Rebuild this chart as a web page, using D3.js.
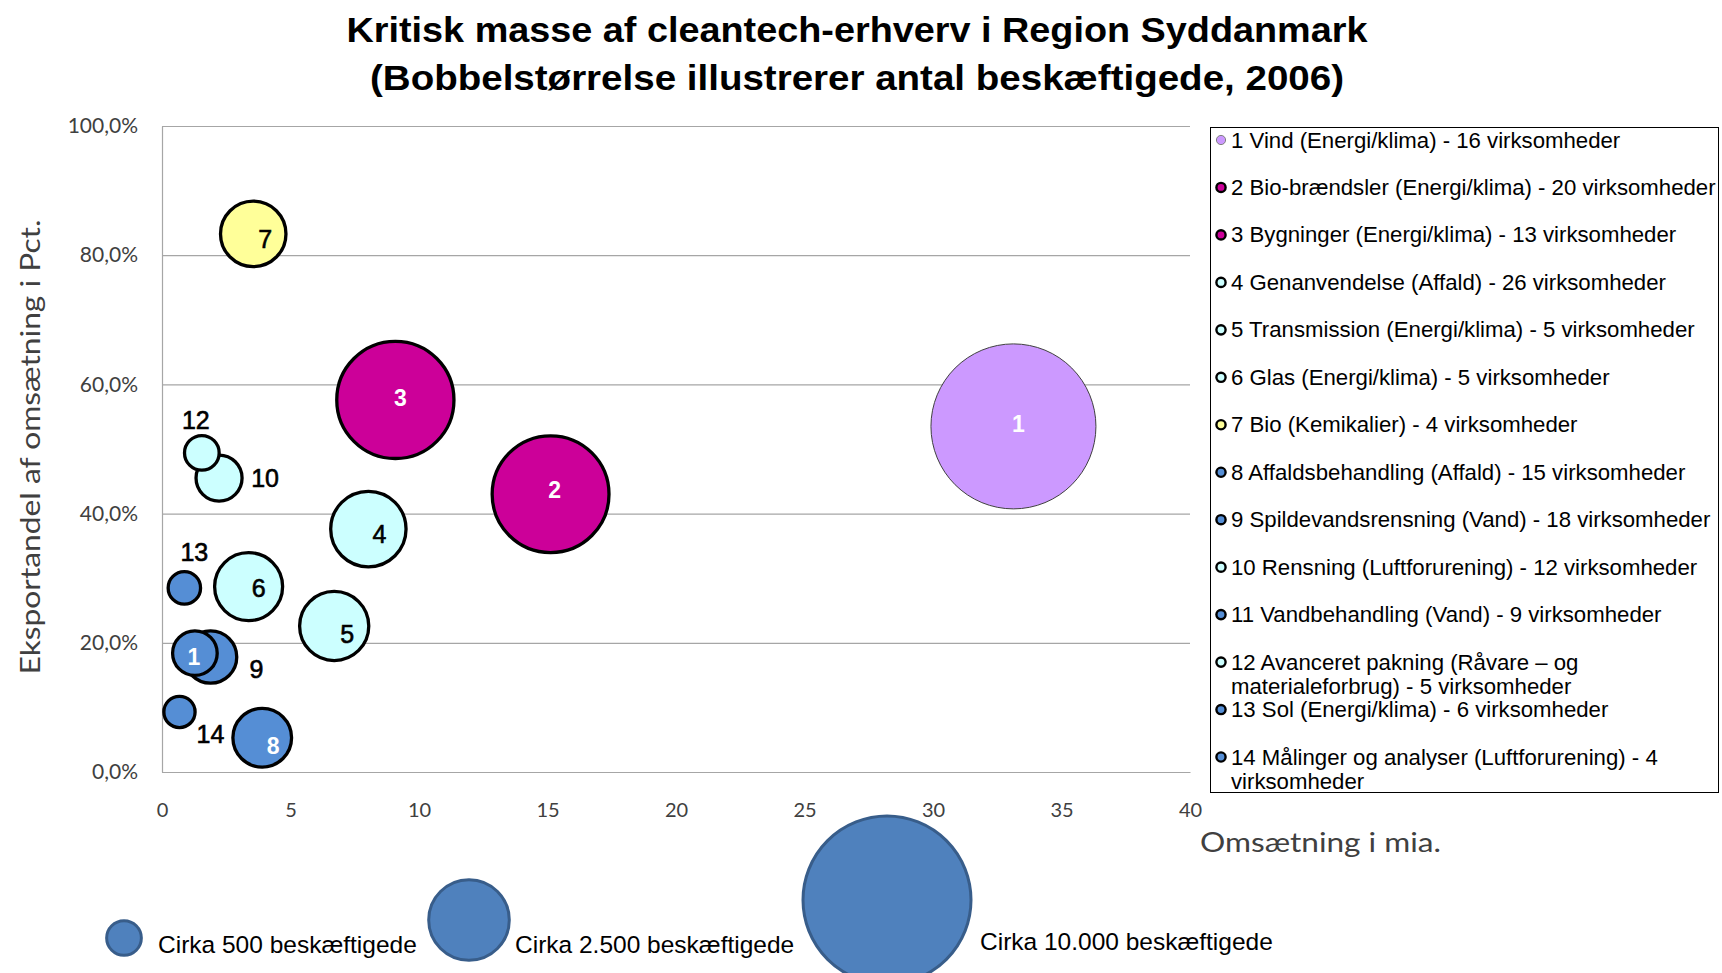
<!DOCTYPE html>
<html><head><meta charset="utf-8">
<script src="https://cdn.jsdelivr.net/npm/d3@7"></script>
<style>body{margin:0;background:#fff;overflow:hidden}</style>
</head><body>
<svg id="c" width="1722" height="973"></svg>
<script>
// ---------- data ----------
const titleLines = ["Kritisk masse af cleantech-erhverv i Region Syddanmark",
                    "(Bobbelstørrelse illustrerer antal beskæftigede, 2006)"];
const yAxisTitle = "Eksportandel af omsætning i Pct.";
const xAxisTitle = "Omsætning i mia.";
const bubbleLabels = ["1","2","3","4","5","6","7","8","9","10","1","12","13","14"];
const legendLabels = [
  "1 Vind (Energi/klima) -  16 virksomheder",
  "2 Bio-brændsler (Energi/klima) - 20 virksomheder",
  "3 Bygninger (Energi/klima) - 13 virksomheder",
  "4 Genanvendelse (Affald) - 26 virksomheder",
  "5 Transmission (Energi/klima) - 5 virksomheder",
  "6 Glas (Energi/klima) -  5 virksomheder",
  "7 Bio (Kemikalier) - 4 virksomheder",
  "8 Affaldsbehandling (Affald) - 15 virksomheder",
  "9 Spildevandsrensning (Vand) - 18 virksomheder",
  "10 Rensning (Luftforurening) - 12 virksomheder",
  "11 Vandbehandling (Vand) - 9 virksomheder",
  "12 Avanceret pakning (Råvare – og\nmaterialeforbrug) - 5 virksomheder",
  "13 Sol (Energi/klima) -  6 virksomheder",
  "14 Målinger og analyser (Luftforurening) - 4\nvirksomheder"
];
const revenue     = [33.13, 15.12, 9.08, 8.03, 6.70, 3.37, 3.55, 3.90, 1.89, 2.22, 1.28, 1.55, 0.87, 0.68];
const exportShare = [0.535, 0.430, 0.576, 0.376, 0.226, 0.287, 0.833, 0.053, 0.178, 0.455, 0.184, 0.494, 0.285, 0.093];
const employees   = [10000, 5230, 5260, 2240, 1900, 1840, 1710, 1390, 1120, 880, 830, 520, 460, 430];
const yTicks = [0, 0.2, 0.4, 0.6, 0.8, 1.0];
const xTicks = [0, 5, 10, 15, 20, 25, 30, 35, 40];
const sizeLegendValues = [500, 2500, 10000];
const sizeLegendLabels = ["Cirka 500 beskæftigede", "Cirka 2.500 beskæftigede", "Cirka 10.000 beskæftigede"];

// ---------- styles ----------
const fills = ["#CC99FF","#CC0099","#CC0099","#CCFFFF","#CCFFFF","#CCFFFF","#FFFF99",
               "#558ED5","#558ED5","#CCFFFF","#558ED5","#CCFFFF","#558ED5","#558ED5"];
const whiteLabel = [true,true,true,false,false,false,false,true,false,false,true,false,false,false];
// label centre offset relative to bubble centre (dx, dy) in px
const labelOffsets = [[5,-2],[4,-4],[5,-2],[11,5],[13,8],[10,1],[12,5],[11,8],
                      [46,12],[46,0],[-1,4],[-6,-33],[10,-36],[31,22]];

const W = 1722, H = 973;
const plot = {l:162, r:1190, t:126, b:772};
const svg = d3.select("#c");
svg.append("rect").attr("width",W).attr("height",H).attr("fill","#fff");

const x = d3.scaleLinear().domain([0,40]).range([plot.l, plot.r]);
const y = d3.scaleLinear().domain([0,1]).range([plot.b, plot.t]);
const r = d3.scaleSqrt().domain([0,10000]).range([0,83]);

const axisFont = "Lato, 'Open Sans', sans-serif";
const arial = "'Liberation Sans', Arial, sans-serif";

// gridlines
const grid = svg.append("g").attr("transform",`translate(${plot.l},0)`)
  .call(d3.axisLeft(y).tickValues(yTicks).tickSize(-(plot.r-plot.l)).tickFormat(""));
grid.select(".domain").remove();
grid.selectAll("line").attr("stroke","#A6A6A6").attr("stroke-width",1.2);

// y axis
const fmtPct = d => d3.format(".1f")(d*100).replace(".", ",") + "%";
const yAx = svg.append("g").attr("transform",`translate(${plot.l},0)`)
  .call(d3.axisLeft(y).tickValues(yTicks).tickSize(0).tickPadding(24).tickFormat(fmtPct));
yAx.select(".domain").attr("stroke","#A6A6A6").attr("stroke-width",1.2);
yAx.selectAll("text").attr("font-family",axisFont).attr("font-size",21).attr("fill","#404040");

// x axis
const xAx = svg.append("g").attr("transform",`translate(0,${plot.b})`)
  .call(d3.axisBottom(x).tickValues(xTicks).tickSize(0).tickPadding(0).tickFormat(d3.format("d")));
xAx.select(".domain").attr("stroke","#A6A6A6").attr("stroke-width",1.2);
xAx.selectAll("text").attr("font-family",axisFont).attr("font-size",20).attr("fill","#404040")
  .attr("y",38).attr("dy","0.35em");

// axis titles
svg.append("text").attr("transform","translate(30,447) rotate(-90)")
  .attr("text-anchor","middle").attr("dominant-baseline","central")
  .attr("font-family",axisFont).attr("font-size",26).attr("fill","#404040")
  .attr("textLength",455).attr("lengthAdjust","spacingAndGlyphs").text(yAxisTitle);
svg.append("text").attr("x",1200).attr("y",852)
  .attr("font-family",axisFont).attr("font-size",26).attr("fill","#404040")
  .attr("textLength",241).attr("lengthAdjust","spacingAndGlyphs").text(xAxisTitle);

// title
const tW = [1021, 974], tY = [42, 90];
titleLines.forEach((t,i) => {
  svg.append("text").attr("x",857).attr("y",tY[i]).attr("text-anchor","middle")
    .attr("font-family","'Liberation Sans Narrow', 'Liberation Sans', sans-serif")
    .attr("font-weight","bold").attr("font-size",35).attr("fill","#000")
    .attr("textLength",tW[i]).attr("lengthAdjust","spacingAndGlyphs").text(t);
});

// bubbles
const data = revenue.map((v,i) => ({i, x:v, y:exportShare[i], s:employees[i]}));
const order = data.slice().sort((a,b) => b.s - a.s);
svg.append("g").selectAll("circle").data(order).join("circle")
  .attr("cx", d => x(d.x)).attr("cy", d => y(d.y))
  .attr("r", d => r(d.s) - (d.i===0 ? 0.5 : 1.6))
  .attr("fill", d => fills[d.i])
  .attr("stroke", d => d.i===0 ? "#404040" : "#000")
  .attr("stroke-width", d => d.i===0 ? 1 : 3.3);

// bubble labels
svg.append("g").selectAll("text").data(data).join("text")
  .attr("x", d => x(d.x) + labelOffsets[d.i][0])
  .attr("y", d => y(d.y) + labelOffsets[d.i][1])
  .attr("text-anchor","middle").attr("dominant-baseline","central")
  .attr("font-family",arial)
  .attr("font-size", d => whiteLabel[d.i] ? 23 : 25)
  .attr("font-weight", d => whiteLabel[d.i] ? "bold" : "normal")
  .attr("fill", d => whiteLabel[d.i] ? "#fff" : "#000")
  .attr("stroke", d => whiteLabel[d.i] ? "none" : "#000")
  .attr("stroke-width", 0.6)
  .text(d => bubbleLabels[d.i]);

// legend box
const lg = {l:1210, t:127, r:1718, b:792};
svg.append("rect").attr("x",lg.l+0.5).attr("y",lg.t+0.5).attr("width",lg.r-lg.l).attr("height",lg.b-lg.t)
  .attr("fill","#fff").attr("stroke","#000").attr("stroke-width",1);
const rowY = d3.scaleLinear().domain([0,13]).range([140, 757]);
legendLabels.forEach((lab,i) => {
  const cy = rowY(i);
  svg.append("circle").attr("cx",1221).attr("cy",cy).attr("r", 4.6)
    .attr("fill",fills[i]).attr("stroke", i===0 ? "#808080" : "#000")
    .attr("stroke-width", i===0 ? 1 : 2.4);
  lab.split("\n").forEach((line,j) => {
    svg.append("text").attr("x",1231).attr("y",cy + j*24).attr("dominant-baseline","central")
      .attr("font-family",arial).attr("font-size",22.2).attr("fill","#000")
      .text(line);
  });
});

// size legend
const sl = [{cx:124, cy:938, tx:158, ty:953},
            {cx:469, cy:920, tx:515, ty:953},
            {cx:887, cy:900, tx:980, ty:950}];
sizeLegendValues.forEach((v,i) => {
  svg.append("circle").attr("cx",sl[i].cx).attr("cy",sl[i].cy).attr("r",r(v) - (i===2 ? -1 : 1.2))
    .attr("fill","#4F81BD").attr("stroke","#385D8A").attr("stroke-width",3);
  svg.append("text").attr("x",sl[i].tx).attr("y",sl[i].ty)
    .attr("font-family",arial).attr("font-size",24.5).attr("fill","#000")
    .text(sizeLegendLabels[i]);
});
</script>
</body></html>
